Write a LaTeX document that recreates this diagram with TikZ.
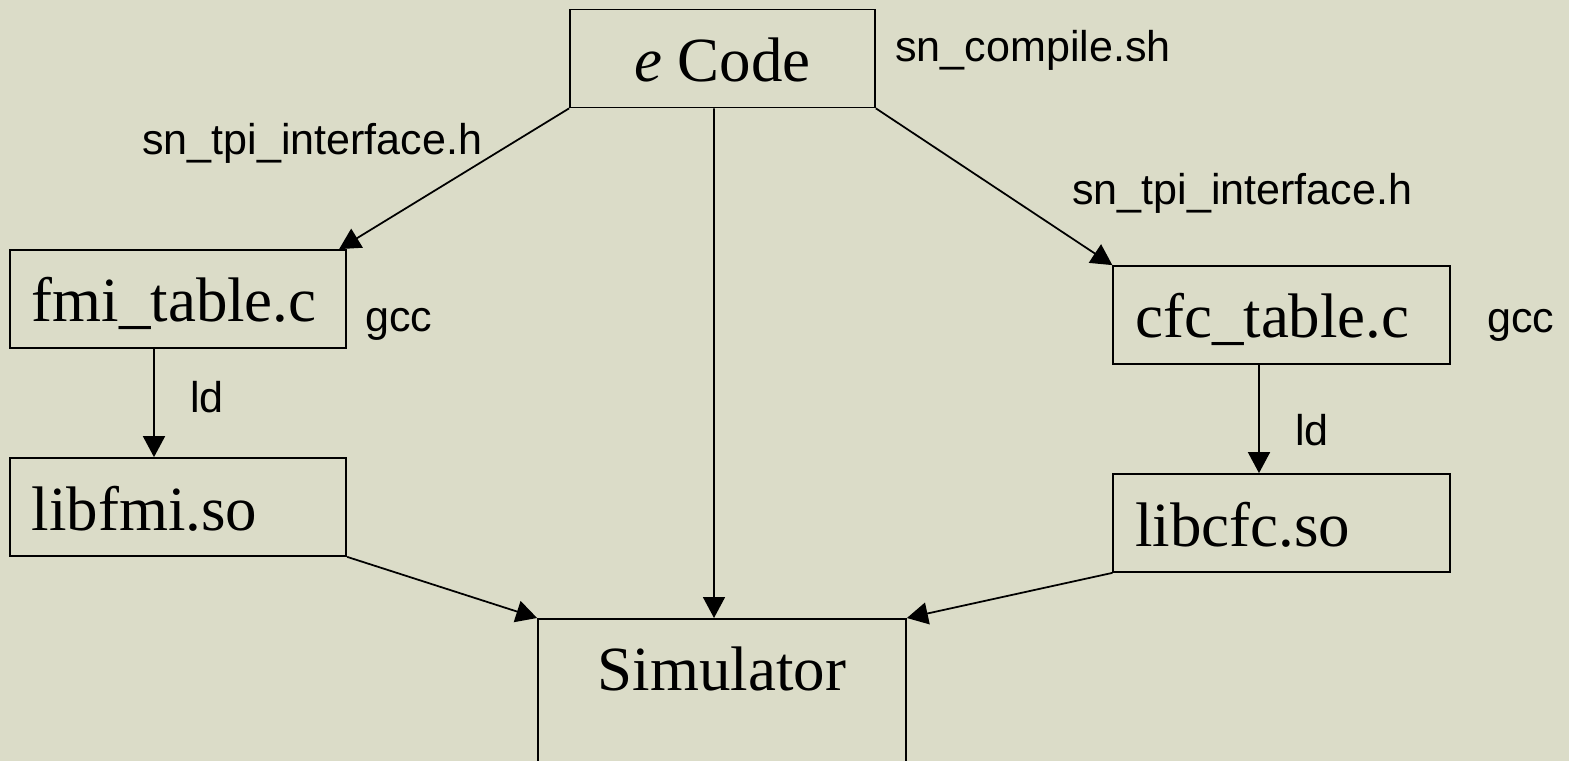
\documentclass[tikz,border=0pt]{standalone}
\usepackage{fontspec}
\setmainfont{Liberation Serif}
\setsansfont{Liberation Sans}
\usepackage{xcolor}
\usetikzlibrary{arrows.meta,positioning,calc}
\definecolor{slidebg}{RGB}{219,220,200}

\begin{document}
\begin{tikzpicture}[
    box/.style={draw, line width=1pt, inner ysep=0.2cm, text height=1.24cm, text depth=0.32cm, font=\fontsize{35.8}{43}\selectfont},
    filebox/.style={box, align=left, text width=5.85cm, inner xsep=0.44cm},
    lbl/.style={anchor=base west, inner sep=0pt, font=\sffamily\fontsize{24.5}{29}\selectfont},
    arr/.style={-{Triangle[length=0.42cm, width=0.44cm]}, line width=1pt}
]
    % slide background
    \fill[slidebg] (0,0) rectangle (31.38,-15.22);
    \clip (0,0) rectangle (31.38,-15.22);

    % Source and simulator
    \node[box, minimum width=6.1cm] (code) at (14.45,-1.17) {\textit{e} Code};
    \node[box, minimum width=7.36cm, text depth=2.5cm, anchor=north] (sim) at (14.44,-12.36) {Simulator};

    % Tables and libraries
    \node[filebox] (fmi) at (3.56,-5.98) {fmi\_table.c};
    \node[filebox] (libfmi) at (3.56,-10.14) {libfmi.so};
    \node[filebox] (cfc) at (25.63,-6.30) {cfc\_table.c};
    \node[filebox] (libcfc) at (25.63,-10.46) {libcfc.so};

    % Tool labels
    \node[lbl] (shlbl) at (17.90,-1.24) {sn\_compile.sh};
    \node[lbl] (hfmi) at (2.84,-3.10) {sn\_tpi\_interface.h};
    \node[lbl] (hcfc) at (21.44,-4.10) {sn\_tpi\_interface.h};
    \node[lbl] (gccfmi) at (7.30,-6.64) {gcc};
    \node[lbl] (gcccfc) at (29.74,-6.66) {gcc};
    \node[lbl] (ldfmi) at (3.80,-8.26) {ld};
    \node[lbl] (ldcfc) at (25.90,-8.90) {ld};

    % Arrows
    \draw[arr] (code.south west) -- ([xshift=-0.16cm]fmi.north east);
    \draw[arr] (code.south east) -- (cfc.north west);
    \draw[arr] ([xshift=-0.17cm]code.south) -- ([xshift=-0.16cm]sim.north);
    \draw[arr] ([xshift=-0.48cm]fmi.south) -- ([xshift=-0.48cm]libfmi.north);
    \draw[arr] ([xshift=-0.45cm]cfc.south) -- ([xshift=-0.45cm]libcfc.north);
    \draw[arr] (libfmi.south east) -- (sim.north west);
    \draw[arr] (libcfc.south west) -- (sim.north east);
\end{tikzpicture}
\end{document}
